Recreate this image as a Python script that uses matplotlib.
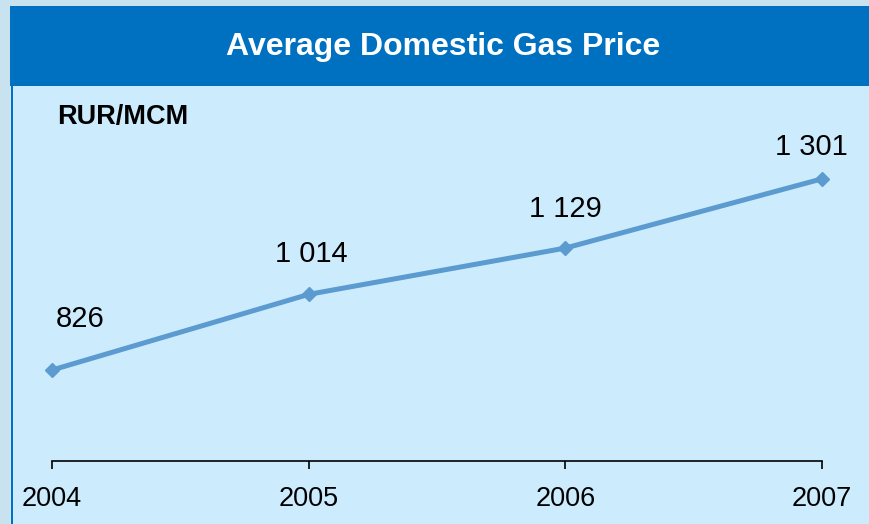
import matplotlib
matplotlib.use("Agg")
import matplotlib.pyplot as plt
from matplotlib.patches import Rectangle

years = [2004, 2005, 2006, 2007]
prices = [826, 1014, 1129, 1301]
price_labels = ["826", "1 014", "1 129", "1 301"]
title = "Average Domestic Gas Price"
unit = "RUR/MCM"

plt.rcParams["font.family"] = ["Liberation Sans", "DejaVu Sans"]

W, H = 869, 524
fig = plt.figure(figsize=(W / 100, H / 100), dpi=100)
fig.patch.set_facecolor("#CCECFE")

# outer light strip (top / left) and header band
fig.add_artist(Rectangle((0, 1 - 6 / H), 1, 6 / H, transform=fig.transFigure,
                         facecolor="#C9E2EF", edgecolor="none"))
fig.add_artist(Rectangle((0, 0), 10 / W, 1, transform=fig.transFigure,
                         facecolor="#C9E2EF", edgecolor="none"))
fig.add_artist(Rectangle((10 / W, 1 - 86 / H), 1, 80 / H, transform=fig.transFigure,
                         facecolor="#0070C0", edgecolor="none"))
fig.add_artist(Rectangle((10.5 / W, 0), 2.5 / W, 1 - 86 / H, transform=fig.transFigure,
                         facecolor="#0070C0", edgecolor="none"))
fig.text(443 / W, 1 - 47 / H, title, color="white", fontsize=23, fontweight="bold",
         ha="center", va="center")
fig.text(57 / W, 1 - 117 / H, unit, color="black", fontsize=19.5, fontweight="bold",
         ha="left", va="center")

# axes: x from 52px to 822px, x-axis line at 461px
ax = fig.add_axes([52 / W, 63 / H, 770 / W, (461 - 139) / H])
ax.set_facecolor("none")
ax.plot(years, prices, color="#5B9BD0", lw=3.6, marker="D", ms=7, clip_on=False)
ax.set_xlim(2004, 2007)
ax.set_ylim(600, 1400)

offsets = [(20, 37), (2, 29), (0, 28), (-8, 23)]
for x, y, lab, off in zip(years, prices, price_labels, offsets):
    ax.annotate(lab, (x, y), xytext=off, textcoords="offset points",
                ha="center", va="center", fontsize=21)

for s in ["top", "right", "left"]:
    ax.spines[s].set_visible(False)
ax.spines["bottom"].set_linewidth(1.2)
ax.set_xticks(years)
ax.set_xticklabels([str(y) for y in years], fontsize=19.5)
ax.tick_params(axis="x", direction="out", length=6, width=1.2, pad=12)
ax.set_yticks([])

fig.savefig("out.png", dpi=100, facecolor=fig.get_facecolor())
